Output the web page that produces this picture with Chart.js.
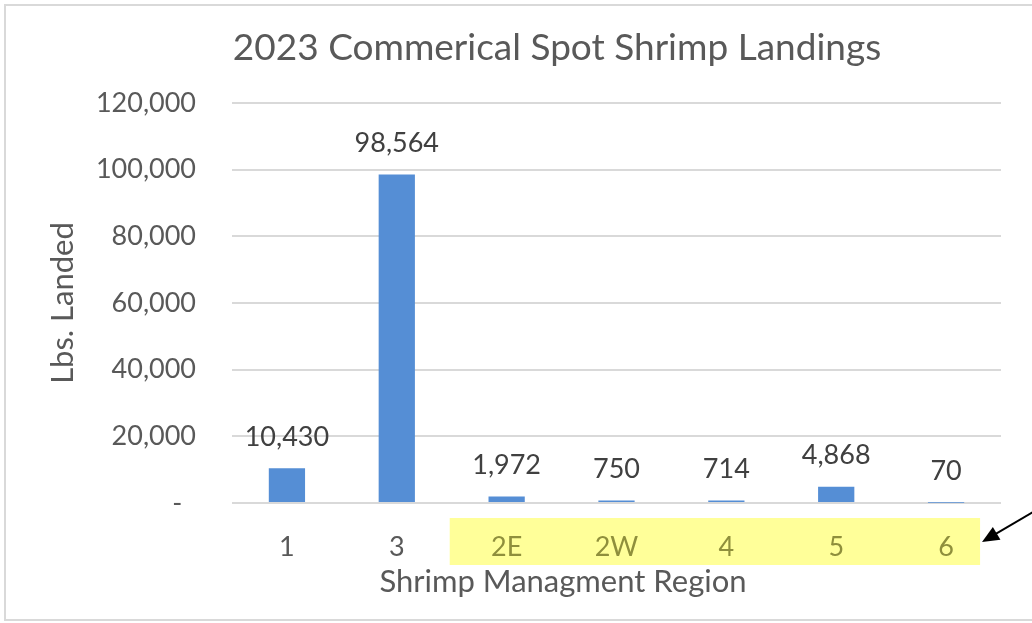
<!DOCTYPE html>
<html>
<head>
<meta charset="utf-8">
<script src="https://cdn.jsdelivr.net/npm/chart.js@4"></script>
<style>
  html, body { margin: 0; padding: 0; background: #ffffff; }
  #wrap { position: relative; width: 1032px; height: 623px; }
</style>
</head>
<body>
<div id="wrap"><canvas id="c" width="1032" height="623"></canvas></div>
<script>
const regions = ['1', '3', '2E', '2W', '4', '5', '6'];
const landings = [10430, 98564, 1972, 750, 714, 4868, 70];
const yTicks = [0, 20000, 40000, 60000, 80000, 100000, 120000];
const highlightedRegions = ['2E', '2W', '4', '5', '6'];
const chartTitle = '2023 Commerical Spot Shrimp Landings';
const xTitle = 'Shrimp Managment Region';
const yTitle = 'Lbs. Landed';

const FONT = 'Lato, "Open Sans", sans-serif';
const GRAY = '#595959';
const OLIVE = '#8f8f3c';

const decorPlugin = {
  id: 'decor',
  beforeDraw(chart) {
    const ctx = chart.ctx;
    ctx.save();
    // chart frame
    ctx.strokeStyle = '#d9d9d9';
    ctx.lineWidth = 2;
    ctx.strokeRect(5, 5, 1200, 615);
    // yellow highlight behind highlighted category labels
    const x = chart.scales.x;
    const first = regions.indexOf(highlightedRegions[0]);
    const last = regions.indexOf(highlightedRegions[highlightedRegions.length - 1]);
    const left = (x.getPixelForValue(first - 1) + x.getPixelForValue(first)) / 2 - 2;
    const right = x.getPixelForValue(last) + 34;
    ctx.fillStyle = '#ffff99';
    ctx.fillRect(left, 518, right - left, 47);
    // titles
    ctx.fillStyle = GRAY;
    ctx.textAlign = 'center';
    ctx.textBaseline = 'middle';
    ctx.font = '37px ' + FONT;
    ctx.fillText(chartTitle, 557, 48);
    ctx.font = '31px ' + FONT;
    ctx.fillText(xTitle, 563, 582);
    ctx.restore();
  },
  afterDatasetsDraw(chart) {
    const ctx = chart.ctx;
    const meta = chart.getDatasetMeta(0);
    ctx.save();
    ctx.font = '27px ' + FONT;
    ctx.fillStyle = '#404040';
    ctx.textAlign = 'center';
    ctx.textBaseline = 'middle';
    meta.data.forEach((bar, i) => {
      const v = chart.data.datasets[0].data[i];
      ctx.fillText(v.toLocaleString('en-US'), bar.x, bar.y - 31);
    });
    ctx.restore();
  },
  afterDraw(chart) {
    // annotation arrow pointing at highlighted labels
    const ctx = chart.ctx;
    const tipX = 982, tipY = 542;
    const fromX = 1045, fromY = 505;
    const ang = Math.atan2(fromY - tipY, fromX - tipX);
    ctx.save();
    ctx.strokeStyle = '#000000';
    ctx.fillStyle = '#000000';
    ctx.lineWidth = 2;
    ctx.beginPath();
    ctx.moveTo(fromX, fromY);
    ctx.lineTo(tipX + 12 * Math.cos(ang), tipY + 12 * Math.sin(ang));
    ctx.stroke();
    const hl = 17, hw = 7.5;
    const bx = tipX + hl * Math.cos(ang), by = tipY + hl * Math.sin(ang);
    ctx.beginPath();
    ctx.moveTo(tipX, tipY);
    ctx.lineTo(bx + hw * Math.sin(ang), by - hw * Math.cos(ang));
    ctx.lineTo(bx - hw * Math.sin(ang), by + hw * Math.cos(ang));
    ctx.closePath();
    ctx.fill();
    ctx.restore();
  }
};

new Chart(document.getElementById('c'), {
  type: 'bar',
  data: {
    labels: regions,
    datasets: [{
      data: landings,
      backgroundColor: '#558ed5',
      borderWidth: 0,
      barPercentage: 0.33,
      categoryPercentage: 1.0
    }]
  },
  options: {
    responsive: false,
    animation: false,
    devicePixelRatio: 1,
    layout: { padding: { left: 44, right: 31, top: 103, bottom: 0 } },
    plugins: {
      legend: { display: false },
      tooltip: { enabled: false },
      title: { display: false }
    },
    scales: {
      y: {
        min: 0,
        max: 120000,
        afterBuildTicks(scale) { scale.ticks = yTicks.map(v => ({ value: v })); },
        afterFit(scale) { scale.width = 232 - 44; },
        border: { display: false },
        grid: { color: '#d9d9d9', lineWidth: 2, drawTicks: false },
        ticks: {
          padding: 36,
          color: GRAY,
          font: { family: FONT, size: 27 },
          callback: v => v === 0 ? '-  ' : v.toLocaleString('en-US')
        },
        title: {
          display: true,
          text: yTitle,
          color: GRAY,
          font: { family: FONT, size: 31 },
          padding: { top: 0, bottom: 0 }
        }
      },
      x: {
        afterFit(scale) { scale.height = 120; },
        border: { display: false },
        grid: { display: false, drawTicks: false },
        ticks: {
          padding: 28,
          color: ctx => highlightedRegions.includes(regions[ctx.index]) ? OLIVE : GRAY,
          font: { family: FONT, size: 27 },
          maxRotation: 0
        }
      }
    }
  },
  plugins: [decorPlugin]
});
</script>
</body>
</html>
